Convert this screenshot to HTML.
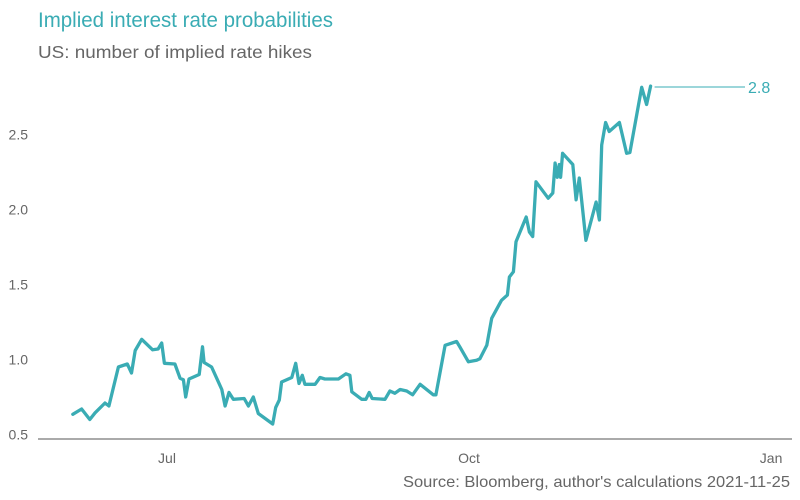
<!DOCTYPE html>
<html><head><meta charset="utf-8"><style>
body{margin:0;background:#fff;font-family:"Liberation Sans",Arial,sans-serif}
svg{display:block}
</style></head><body>
<svg id="chart" width="800" height="500">
<text x="38" y="27" font-size="21" fill="#3aacb4" textLength="295" lengthAdjust="spacingAndGlyphs">Implied interest rate probabilities</text>
<text x="38" y="58" font-size="17.5" fill="#666" textLength="274" lengthAdjust="spacingAndGlyphs">US: number of implied rate hikes</text>
<g id="yaxis"></g>
<g id="xaxis"></g>
<line x1="38" x2="792" y1="439" y2="439" stroke="#777" stroke-width="1.3"/>
<g id="plot"></g>
<text x="790" y="487" font-size="16" fill="#666" text-anchor="end" textLength="387" lengthAdjust="spacingAndGlyphs">Source: Bloomberg, author's calculations 2021-11-25</text>
</svg>
<script>
// days since 2021-07-01
const days=[-28.7,-26.0,-23.5,-21.9,-18.9,-17.7,-14.8,-12.1,-10.8,-9.7,-7.7,-4.4,-2.7,-1.6,-0.8,2.4,4.0,5.0,5.7,6.7,9.8,10.8,11.3,13.6,16.7,17.7,18.9,20.2,23.5,24.8,26.3,27.8,32.2,33.1,34.2,34.9,38.0,39.2,40.2,41.2,42.0,45.1,46.6,48.1,52.2,54.5,55.7,56.3,59.3,60.6,61.6,62.5,66.4,67.9,69.4,71.0,73.0,74.8,77.1,81.1,81.9,84.7,88.2,89.2,91.8,94.3,95.3,97.4,98.9,101.9,103.7,104.3,105.5,106.3,109.4,110.4,111.4,112.4,116.1,117.5,118.2,118.9,119.5,119.9,120.5,123.6,124.6,125.6,126.3,127.6,130.7,131.7,132.4,133.6,134.7,137.8,140.0,141.0,144.6,146.1,147.3];
const hikes=[0.635,0.67,0.60,0.645,0.71,0.69,0.95,0.97,0.91,1.06,1.135,1.065,1.07,1.11,0.975,0.97,0.875,0.865,0.75,0.87,0.90,1.085,0.98,0.95,0.80,0.69,0.78,0.735,0.74,0.69,0.75,0.64,0.57,0.68,0.73,0.85,0.88,0.975,0.84,0.895,0.835,0.835,0.88,0.87,0.87,0.905,0.895,0.785,0.735,0.735,0.78,0.74,0.735,0.79,0.775,0.80,0.79,0.765,0.835,0.765,0.765,1.095,1.12,1.085,0.985,0.995,1.005,1.095,1.275,1.395,1.43,1.55,1.585,1.785,1.95,1.85,1.82,2.185,2.075,2.11,2.31,2.215,2.30,2.215,2.375,2.30,2.065,2.21,2.065,1.795,2.05,1.93,2.43,2.58,2.52,2.58,2.375,2.38,2.815,2.70,2.823];
const yTicks=[0.5,1.0,1.5,2.0,2.5];
const xTickDays=[0,92,184];
const xTickLabels=["Jul","Oct","Jan"];
const lastLabel="2.8";
const NS="http://www.w3.org/2000/svg";
const xs=d=>167+d*3.283;
const ys=v=>434.5-(v-0.5)*150;
function mk(t,a,p){const e=document.createElementNS(NS,t);for(const k in a)e.setAttribute(k,a[k]);p.appendChild(e);return e;}
const ya=document.getElementById('yaxis'),xa=document.getElementById('xaxis'),pl=document.getElementById('plot');
yTicks.forEach(v=>{const t=mk('text',{x:28,y:ys(v)+5,'font-size':14,fill:'#666','text-anchor':'end'},ya);t.textContent=v.toFixed(1);

});
xTickDays.forEach((d,i)=>{const t=mk('text',{x:xs(d),y:463,'font-size':14,fill:'#666','text-anchor':'middle'},xa);t.textContent=xTickLabels[i];

});
const pts=days.map((d,i)=>xs(d).toFixed(1)+','+ys(hikes[i]).toFixed(1)).join(' ');
const line=mk('polyline',{points:pts,fill:'none',stroke:'#3aacb4','stroke-width':3.3,'stroke-linejoin':'round','stroke-linecap':'round'},pl);


const lx=xs(days[days.length-1]),ly=ys(hikes[hikes.length-1]);
const ll=mk('line',{x1:lx+4,x2:745,y1:ly+1,y2:ly+1,stroke:'#3aacb4','stroke-width':1},pl);


const lt=mk('text',{x:748,y:ly+7,'font-size':16,fill:'#3aacb4'},pl);lt.textContent=lastLabel;


</script>
</body></html>
